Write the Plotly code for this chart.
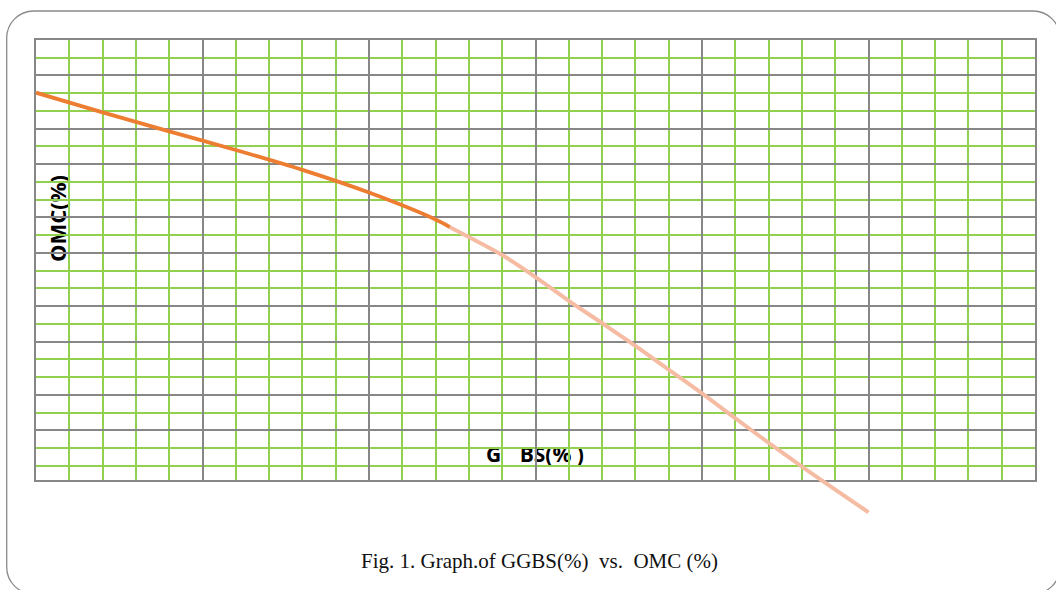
import plotly.graph_objects as go

# ---- data ----
ggbs_dark = [0, 2, 4, 6, 8, 10, 12, 12.43]
omc_dark = [22.03, 20.92, 19.85, 18.80, 17.68, 16.40, 14.88, 14.45]

ggbs_light = [12.43, 14, 15, 16, 17, 18, 19, 20, 21, 22, 23, 24, 25]
omc_light = [14.45, 12.88, 11.64, 10.30, 9.04, 7.76, 6.42, 5.08, 3.68, 2.30, 0.96, -0.34, -1.62]

# grid positions (graph-paper style)
y_major_lines = [25, 23, 20, 18, 15, 13, 10, 8, 5, 3]
y_minor_lines = [24, 22, 21, 19, 17, 16, 14, 12, 11, 9, 7, 6, 4, 2, 1]

y_label = "OMC(%)"
x_label_parts = ["G", "BS(% )"]
caption = "Fig. 1. Graph.of GGBS(%)  vs.  OMC (%)"

# ---- layout geometry (pixels) ----
W, H = 1056, 590
ML, MR, MT, MB = 36, 21, 40, 60
PW, PH = W - ML - MR, H - MT - MB
grid_bottom_px = 480
Y_TOP = 25
px_per_unit = (grid_bottom_px - MT) / 24.8
y_bottom_main = Y_TOP - (grid_bottom_px - MT) / px_per_unit
y_bottom_ext = Y_TOP - PH / px_per_unit
dom_bottom = (MT + PH - grid_bottom_px) / PH

GREEN = "#92D050"
GRAY = "#878787"

fig = go.Figure()

fig.add_trace(go.Scatter(
    x=ggbs_light, y=omc_light, mode="lines", xaxis="x2", yaxis="y2",
    line=dict(color="#F5BBA3", width=4, shape="spline", smoothing=0.8),
    showlegend=False, hoverinfo="skip"))
fig.add_trace(go.Scatter(
    x=ggbs_dark, y=omc_dark, mode="lines", xaxis="x2", yaxis="y2",
    line=dict(color="#ED7D31", width=3.8, shape="spline", smoothing=0.8),
    showlegend=False, hoverinfo="skip"))

# labels beneath the grid (shape labels on the lowest layer)
def text_box(xc, yc, text, size, angle=0):
    fig.add_shape(
        type="rect", xref="x", yref="y", layer="below",
        x0=xc - 0.5, x1=xc + 0.5, y0=yc - 0.5, y1=yc + 0.5,
        line=dict(width=0), fillcolor="rgba(0,0,0,0)",
        label=dict(text=text, textangle=angle, textposition="middle center",
                   font=dict(family="Open Sans", size=size, color="black", weight="bold")))

text_box(0.69, 14.94, y_label, 22, -90)
text_box(13.74, 1.62, x_label_parts[0], 21)
text_box(15.49, 1.62, x_label_parts[1], 21)

# rounded frame
def px2paper(x, y):
    return (x - ML) / PW, (MT + PH - y) / PH

x0, y0, x1, y1, r = 6.7, 11, 1060, 594, 27
k = 0.5523 * r
def P(x, y):
    a, b = px2paper(x, y)
    return f"{a:.5f},{b:.5f}"
path = (f"M {P(x0 + r, y0)} L {P(x1 - r, y0)} "
        f"C {P(x1 - r + k, y0)} {P(x1, y0 + r - k)} {P(x1, y0 + r)} "
        f"L {P(x1, y1 - r)} "
        f"C {P(x1, y1 - r + k)} {P(x1 - r + k, y1)} {P(x1 - r, y1)} "
        f"L {P(x0 + r, y1)} "
        f"C {P(x0 + r - k, y1)} {P(x0, y1 - r + k)} {P(x0, y1 - r)} "
        f"L {P(x0, y0 + r)} "
        f"C {P(x0, y0 + r - k)} {P(x0 + r - k, y0)} {P(x0 + r, y0)} Z")
fig.add_shape(type="path", xref="paper", yref="paper", path=path,
              line=dict(color="#8a8a8a", width=1.3), layer="above")

cx, cy = px2paper(539, 561)
fig.add_annotation(text=caption, xref="paper", yref="paper", x=cx, y=cy,
                   xanchor="center", yanchor="middle", showarrow=False,
                   font=dict(family="Liberation Serif", size=21, color="#111111"))

fig.update_layout(
    width=W, height=H,
    margin=dict(l=ML, r=MR, t=MT, b=MB),
    paper_bgcolor="white", plot_bgcolor="rgba(0,0,0,0)",
    showlegend=False,
    xaxis=dict(range=[0, 30], domain=[0, 1], anchor="y",
               tick0=0, dtick=5, showgrid=True, gridcolor=GRAY, gridwidth=2,
               minor=dict(tick0=0, dtick=1, showgrid=True, gridcolor=GREEN, gridwidth=2),
               showticklabels=False, ticks="", zeroline=False,
               showline=True, mirror=True, linecolor=GRAY, linewidth=2),
    yaxis=dict(range=[y_bottom_main, Y_TOP], domain=[dom_bottom, 1], anchor="x",
               tickmode="array", tickvals=y_major_lines,
               showgrid=True, gridcolor=GRAY, gridwidth=2,
               minor=dict(tickmode="array", tickvals=y_minor_lines, showgrid=True,
                          gridcolor=GREEN, gridwidth=2),
               showticklabels=False, ticks="", zeroline=False,
               showline=True, mirror=True, linecolor=GRAY, linewidth=2),
    xaxis2=dict(range=[0, 30], domain=[0, 1], anchor="y2", visible=False),
    yaxis2=dict(range=[y_bottom_ext, Y_TOP], domain=[0, 1], anchor="x2", visible=False),
)

fig.write_html("out.html", config={"displayModeBar": False},
               post_script="document.body.style.margin='0';")
